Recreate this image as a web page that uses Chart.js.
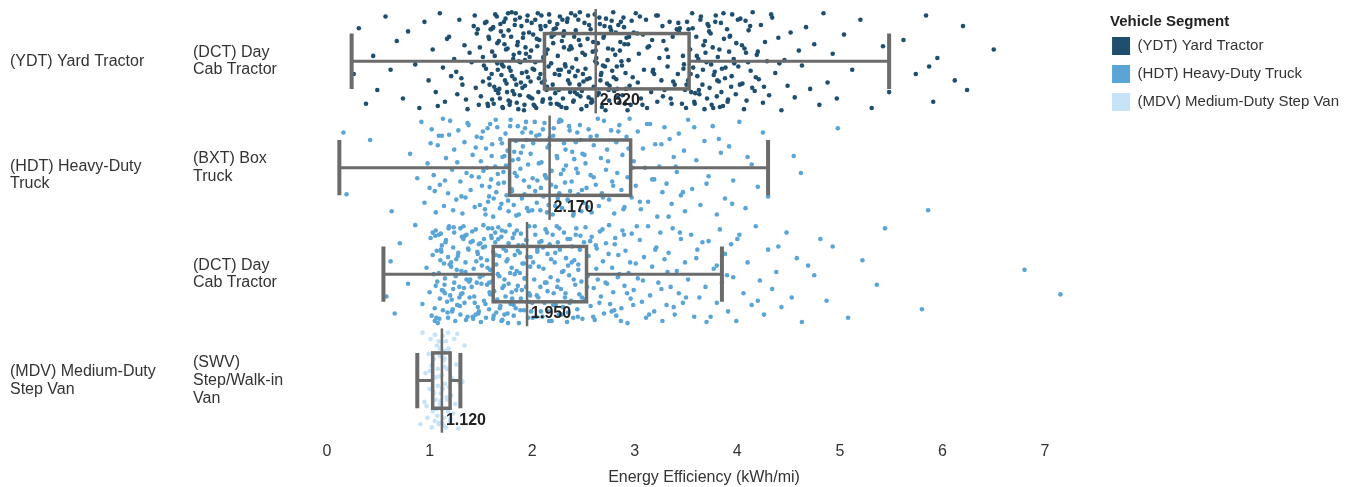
<!DOCTYPE html>
<html>
<head>
<meta charset="utf-8">
<title>Energy Efficiency by Vehicle Segment</title>
<script src="https://cdn.jsdelivr.net/npm/chart.js@4.4.1/dist/chart.umd.min.js"></script>
<style>
  html, body { margin: 0; padding: 0; background: #fff; }
  #chart { display: block; }
</style>
</head>
<body>
<canvas id="chart" width="1358" height="487"></canvas>
<script>
// legend / colour groups
var LEGEND_TITLE = "Vehicle Segment";
var SEGMENTS = ["(YDT) Yard Tractor", "(HDT) Heavy-Duty Truck", "(MDV) Medium-Duty Step Van"];
var SEGMENT_COLORS = ["#1f4e6f", "#5aa5d6", "#c6e3f8"];

// left hand labels
var GROUP_LABELS = [["(YDT) Yard Tractor"], ["(HDT) Heavy-Duty", "Truck"], ["(MDV) Medium-Duty", "Step Van"]];
var ROW_LABELS = [["(DCT) Day", "Cab Tractor"], ["(BXT) Box", "Truck"], ["(DCT) Day", "Cab Tractor"], ["(SWV)", "Step/Walk-in", "Van"]];
var ROW_SEGMENT = [0, 1, 1, 2];

var X_TICKS = [0, 1, 2, 3, 4, 5, 6, 7];

// box plot stats per row (kWh/mi)
var WHISKER_LOW = [0.24, 0.12, 0.55, 0.88];
var Q1 = [2.12, 1.78, 1.62, 1.03];
var MEDIANS = [2.62, 2.17, 1.95, 1.12];
var Q3 = [3.53, 2.96, 2.53, 1.20];
var WHISKER_HIGH = [5.48, 4.30, 3.85, 1.30];

// individual vehicles
var ydtDct = [0.26,0.31,0.38,0.45,0.49,0.57,0.62,0.68,0.74,0.79,0.86,0.9,0.95,0.99,
  1.03,1.06,1.1,1.13,1.15,1.19,1.21,1.24,1.27,1.29,1.32,1.34,1.37,1.39,1.41,1.43,1.45,1.46,1.48,1.49,1.26,1.44,
  1.5,1.52,1.52,1.54,1.55,1.57,1.58,1.58,1.6,1.61,1.61,1.63,1.64,1.66,1.66,1.67,1.69,1.7,1.71,1.72,1.72,1.74,1.75,1.76,1.77,1.77,1.79,1.8,1.81,1.82,1.83,1.83,1.85,1.86,1.87,1.88,1.88,1.9,1.91,1.92,1.93,1.93,1.95,1.96,1.97,1.98,1.99,1.53,1.62,1.68,1.73,1.78,1.84,1.89,1.94,
  2.0,2.01,2.02,2.03,2.04,2.05,2.06,2.07,2.08,2.09,2.1,2.11,2.12,2.13,2.14,2.15,2.16,2.17,2.18,2.19,2.2,2.21,2.22,2.23,2.24,2.25,2.26,2.27,2.28,2.29,2.3,2.31,2.32,2.33,2.34,2.35,2.36,2.37,2.38,2.39,2.4,2.41,2.42,2.43,2.44,2.45,2.46,2.47,2.48,2.49,2.03,2.08,2.14,2.19,2.26,2.31,2.36,2.42,2.47,2.11,
  2.5,2.51,2.52,2.53,2.54,2.56,2.57,2.58,2.59,2.6,2.61,2.63,2.64,2.65,2.66,2.67,2.68,2.7,2.71,2.72,2.73,2.74,2.75,2.77,2.78,2.79,2.8,2.81,2.82,2.84,2.85,2.86,2.87,2.88,2.89,2.91,2.92,2.93,2.94,2.95,2.97,2.98,2.99,2.55,2.62,2.69,2.76,2.83,2.9,2.96,
  3.01,3.03,3.04,3.06,3.08,3.09,3.11,3.12,3.14,3.16,3.17,3.19,3.21,3.22,3.24,3.26,3.27,3.29,3.31,3.32,3.34,3.36,3.37,3.39,3.41,3.42,3.44,3.46,3.47,3.49,3.05,3.18,3.28,3.35,3.43,3.48,
  3.5,3.51,3.52,3.54,3.55,3.56,3.57,3.58,3.6,3.61,3.62,3.63,3.64,3.66,3.67,3.68,3.69,3.7,3.72,3.73,3.74,3.75,3.76,3.78,3.79,3.8,3.81,3.82,3.84,3.85,3.86,3.87,3.88,3.9,3.91,3.92,3.94,3.95,3.97,3.99,3.59,3.71,3.77,3.83,3.93,
  4.01,4.03,4.05,4.07,4.09,4.11,4.13,4.15,4.17,4.19,4.21,4.23,4.25,4.27,4.29,4.31,4.34,4.37,4.4,4.43,4.46,4.49,4.08,4.18,
  4.52,4.56,4.6,4.63,4.67,4.71,4.75,4.8,4.84,4.88,4.93,4.97,
  5.04,5.12,5.2,5.31,5.42,5.48,
  5.62,5.74,5.84,5.91,5.95,6.12,6.2,6.24,6.5,5.87,
  1.555,1.565,1.575,1.585,1.595,1.605,1.615,1.625,1.635,1.645,1.655,1.665,1.675,1.685,1.695,1.705,1.715,1.725,1.735,1.745,1.755,1.765,1.775,1.785,1.795,1.805,1.815,1.825,1.835,1.845,1.855,1.865,1.875,1.885,1.895,1.905,1.915,1.925,1.935,1.945,1.955,1.965,1.975,1.985,1.995,
  2.005,2.025,2.045,2.065,2.085,2.105,2.125,2.145,2.165,2.185,2.205,2.225,2.245,2.265,2.285,2.305,2.325,2.345,2.365,2.385,2.405,2.425,2.445,2.465,2.485,
  2.515,2.535,2.555,2.575,2.595,2.615,2.635,2.655,2.675,2.695,2.715,2.735,2.755,2.775,2.795,2.815,2.835,2.855,2.875,2.895,2.915,2.935,
  2.015,2.055,2.095,2.135,2.175,2.215,2.255,2.295,2.335,2.375,2.415,2.455,2.495,
  2.545,2.585,2.625,2.665,2.705,2.745,2.785,2.825,2.865,2.905,2.945,
  3.505,3.525,3.545,3.565,3.585,3.605,3.625,3.645,3.665,3.685,3.705,3.725,3.745,3.765,3.785,3.805,3.825,3.845,3.865,3.885,3.905,3.925,3.945,3.965,3.985,4.005,4.025,4.045,4.065,4.085,4.105,4.125,4.145,
  3.025,3.075,3.125,3.175,3.225,3.275,3.325,3.375,3.425,3.475,
  1.08,1.17,1.31,1.47,1.355,4.2,4.26,4.33,4.41];

var hdtBxt = [0.16,0.19,0.42,0.63,0.81,0.88,
  0.92,0.95,0.98,1.0,1.02,1.04,1.06,1.08,1.1,1.12,1.14,1.16,1.18,1.2,1.22,1.24,1.26,1.28,1.3,1.32,1.34,1.36,1.38,1.4,1.42,1.44,1.46,1.48,1.13,1.35,
  1.5,1.51,1.52,1.54,1.55,1.56,1.57,1.59,1.6,1.61,1.62,1.64,1.65,1.66,1.67,1.69,1.7,1.71,1.72,1.74,1.75,1.76,1.77,1.79,1.8,1.81,1.82,1.84,1.85,1.86,1.87,1.89,1.9,1.91,1.92,1.94,1.95,1.96,1.97,1.99,1.58,1.73,1.83,1.93,
  2.0,2.01,2.03,2.04,2.05,2.07,2.08,2.09,2.11,2.12,2.13,2.15,2.16,2.17,2.19,2.2,2.21,2.23,2.24,2.25,2.27,2.28,2.29,2.31,2.32,2.33,2.35,2.36,2.37,2.39,2.4,2.41,2.43,2.44,2.45,2.47,2.48,2.49,2.14,2.26,
  2.5,2.52,2.53,2.55,2.57,2.58,2.6,2.62,2.63,2.65,2.67,2.68,2.7,2.72,2.73,2.75,2.77,2.78,2.8,2.82,2.83,2.85,2.87,2.88,2.9,2.92,2.93,2.95,2.97,2.99,
  3.01,3.03,3.06,3.08,3.1,3.13,3.15,3.17,3.2,3.22,3.24,3.27,3.29,3.31,3.34,3.36,3.38,3.41,3.43,3.45,3.48,3.49,
  3.52,3.56,3.6,3.64,3.68,3.72,3.76,3.8,3.84,3.88,3.92,3.96,
  4.02,4.08,4.14,4.2,4.25,4.3,
  4.55,4.62,4.98,5.86,
  1.01,1.05,1.09,1.15,1.19,1.23,1.27,1.31,1.37,1.41,1.45,1.49,
  1.505,1.525,1.545,1.565,1.585,1.605,1.625,1.645,1.665,1.685,1.705,1.725,1.745,1.765,1.785,1.805,1.825,1.845,1.865,1.885,1.905,1.925,1.945,1.965,1.985,
  2.005,2.025,2.045,2.065,2.085,2.105,2.125,2.145,2.165,2.185,2.205,2.225,2.245,2.265,2.285,2.305,2.325,2.345,2.365,2.385,2.405,2.425,2.445,2.465,2.485,
  2.51,2.54,2.57,2.6,2.64,2.69,2.74,2.79,2.84,2.89,2.94,2.98,
  3.05,3.12,3.19,3.26,3.33,3.4,3.47,3.58,3.7,3.82,3.95,4.1];

var hdtDct = [0.58,0.62,0.66,0.71,0.79,0.86,0.93,0.97,
  1.0,1.01,1.02,1.03,1.04,1.05,1.06,1.06,1.07,1.08,1.09,1.1,1.11,1.12,1.12,1.13,1.14,1.15,1.16,1.17,1.18,1.18,1.19,1.2,1.21,1.22,1.23,1.24,1.24,1.25,1.26,1.27,1.28,1.29,1.3,1.3,1.31,1.32,1.33,1.34,1.35,1.36,1.36,1.37,1.38,1.39,1.4,1.41,1.42,1.42,1.43,1.44,1.45,1.46,1.47,1.48,1.48,1.49,1.05,1.09,1.15,1.21,1.27,1.33,1.39,1.45,1.11,1.23,1.35,1.47,1.03,1.29,
  1.5,1.5,1.51,1.52,1.53,1.53,1.54,1.55,1.56,1.56,1.57,1.58,1.59,1.59,1.6,1.61,1.62,1.62,1.63,1.64,1.65,1.65,1.66,1.67,1.68,1.68,1.69,1.7,1.71,1.71,1.72,1.73,1.74,1.74,1.75,1.76,1.77,1.77,1.78,1.79,1.8,1.8,1.81,1.82,1.83,1.83,1.84,1.85,1.86,1.86,1.87,1.88,1.89,1.89,1.9,1.91,1.92,1.92,1.93,1.94,1.95,1.95,1.96,1.97,1.98,1.98,1.99,1.52,1.58,1.64,1.7,1.76,1.82,1.88,1.94,1.61,1.73,1.85,1.97,1.67,
  2.0,2.01,2.02,2.03,2.04,2.05,2.06,2.07,2.08,2.09,2.1,2.11,2.12,2.13,2.14,2.15,2.16,2.17,2.18,2.19,2.2,2.21,2.22,2.23,2.24,2.25,2.26,2.27,2.28,2.29,2.3,2.31,2.32,2.33,2.34,2.35,2.36,2.37,2.38,2.39,2.4,2.41,2.42,2.43,2.44,2.45,2.46,2.47,2.48,2.49,2.05,2.15,2.25,2.35,2.45,
  2.51,2.52,2.54,2.55,2.57,2.58,2.6,2.61,2.63,2.64,2.66,2.67,2.69,2.7,2.72,2.73,2.75,2.76,2.78,2.79,2.81,2.82,2.84,2.85,2.87,2.88,2.9,2.91,2.93,2.94,2.96,2.97,2.99,2.62,2.8,
  3.01,3.03,3.05,3.07,3.09,3.11,3.13,3.15,3.17,3.19,3.21,3.23,3.25,3.27,3.29,3.31,3.33,3.35,3.37,3.39,3.41,3.43,3.45,3.47,3.49,
  3.52,3.55,3.58,3.61,3.63,3.66,3.69,3.72,3.74,3.77,3.8,3.83,3.85,3.88,3.91,3.94,3.96,3.99,
  4.02,4.06,4.1,4.14,4.18,4.22,4.26,4.3,4.34,4.38,4.43,4.48,
  4.53,4.58,4.63,4.69,4.75,4.81,4.87,4.93,
  5.08,5.22,5.36,5.44,
  5.8,6.8,7.15,
  1.055,1.075,1.095,1.115,1.135,1.155,1.175,1.195,1.215,1.235,1.255,1.275,1.295,1.315,1.335,1.355,1.375,1.395,1.415,1.435,1.455,1.475,1.495,
  1.505,1.525,1.545,1.565,1.585,1.605,1.625,1.645,1.665,1.685,1.705,1.725,1.745,1.765,1.785,1.805,1.825,1.845,1.865,1.885,1.905,1.925,1.945,1.965,1.985,
  2.005,2.025,2.045,2.065,2.085,2.105,2.125,2.145,2.165,2.185,2.205,2.225,2.245,2.265,2.285,2.305,2.325,2.345,2.365,2.385,2.405,2.425,2.445,2.465,2.485,
  2.505,2.535,2.565,2.595,2.625,2.655,2.685,2.715,2.745,2.775,2.805,2.835,2.865,2.895,2.925,2.955,2.985,
  3.02,3.08,3.14,3.2,3.26,3.32,3.38,3.44,3.5,3.6,3.7,3.8,3.9,4.0,4.2,4.4,
  1.065,1.105,1.145,1.185,1.225,1.265,1.305,1.345,1.385,1.425,1.465];

var mdvSwv = [0.91,0.93,0.95,0.96,0.98,0.99,1.0,1.01,1.02,1.02,1.03,1.04,1.04,1.05,1.05,1.06,1.06,1.07,1.07,1.08,1.08,1.09,1.09,1.1,1.1,1.1,1.11,1.11,1.12,1.12,1.12,1.13,1.13,1.14,1.14,1.15,1.15,1.16,1.16,1.17,1.17,1.18,1.18,1.19,1.2,1.2,1.21,1.22,1.23,1.24,1.25,1.26,1.28,1.3,1.32,1.34,1.11,1.13,1.09,1.15,
  1.035,1.055,1.075,1.095,1.105,1.115,1.125,1.135,1.145,1.165,1.185,1.205,1.0,0.97,1.27,1.29];

var ROW_VALUES = [ydtDct, hdtBxt, hdtDct, mdvSwv];

// vertical spread of the dots inside a row (row units)
var JITTER = [0.12,-0.31,0.40,-0.05,0.27,-0.42,0.08,-0.19,0.35,-0.28,0.03,0.44,-0.37,0.18,-0.11,0.29,-0.45,0.06,0.38,-0.23,
  0.14,-0.02,0.31,-0.39,0.22,-0.15,0.45,-0.08,0.01,-0.33,0.25,-0.26,0.41,-0.13,0.10,-0.43,0.33,-0.04,0.19,-0.36,
  0.07,0.42,-0.21,0.16,-0.30,0.36,-0.09,0.24,-0.44,0.02,-0.17,0.30,-0.35,0.13,0.43,-0.24,0.05,-0.40,0.21,-0.12,
  0.37,-0.29,0.09,-0.46,0.28,-0.06,0.17,-0.34,0.39,-0.18,0.00,0.32,-0.41,0.11,-0.22,0.46,-0.01,0.23,-0.38,0.15,
  -0.27,0.34,-0.10,0.04,-0.32,0.26,-0.16,0.41,-0.45,0.20,-0.07,0.35,-0.25,0.08,-0.39,0.44,-0.14,0.29,-0.20,0.12,
  -0.43,0.38,-0.03,0.18,-0.33,0.27,-0.11,0.05,-0.37,0.40,-0.23,0.22,-0.30];

Chart.defaults.font.family = "'Liberation Sans', Arial, sans-serif";
Chart.defaults.color = "#333";

var datasets = SEGMENTS.map(function(name, s) {
  var pts = [];
  for (var r = 0; r < ROW_VALUES.length; r++) {
    if (ROW_SEGMENT[r] !== s) continue;
    for (var i = 0; i < ROW_VALUES[r].length; i++) {
      pts.push({ x: ROW_VALUES[r][i], y: r + JITTER[(i + r * 29) % JITTER.length] });
    }
  }
  return {
    label: name,
    data: pts,
    backgroundColor: SEGMENT_COLORS[s],
    borderWidth: 0,
    pointRadius: 2.3,
    pointHoverRadius: 2.3
  };
});

var boxPlugin = {
  id: "boxes",
  afterDatasetsDraw: function(chart) {
    var ctx = chart.ctx, xs = chart.scales.x, ys = chart.scales.y;
    var unit = Math.abs(ys.getPixelForValue(1) - ys.getPixelForValue(0));
    var h = unit * 0.26;
    ctx.save();
    ctx.strokeStyle = "#6b6b6b";
    for (var r = 0; r < MEDIANS.length; r++) {
      var y = ys.getPixelForValue(r);
      var lo = xs.getPixelForValue(WHISKER_LOW[r]);
      var a = xs.getPixelForValue(Q1[r]);
      var md = xs.getPixelForValue(MEDIANS[r]);
      var b = xs.getPixelForValue(Q3[r]);
      var hi = xs.getPixelForValue(WHISKER_HIGH[r]);

      ctx.lineWidth = 3;
      ctx.beginPath();
      ctx.moveTo(lo, y); ctx.lineTo(a, y);
      ctx.moveTo(b, y); ctx.lineTo(hi, y);
      ctx.stroke();

      ctx.lineWidth = 4;
      ctx.beginPath();
      ctx.moveTo(lo, y - h); ctx.lineTo(lo, y + h);
      ctx.moveTo(hi, y - h); ctx.lineTo(hi, y + h);
      ctx.stroke();

      ctx.lineWidth = 3.5;
      ctx.strokeRect(a, y - h, b - a, 2 * h);

      ctx.lineWidth = 2.5;
      ctx.beginPath();
      ctx.moveTo(md, y - unit * 0.49); ctx.lineTo(md, y + unit * 0.49);
      ctx.stroke();

      ctx.fillStyle = "#222";
      ctx.font = "bold 16px 'Liberation Sans', Arial, sans-serif";
      ctx.textAlign = "left";
      ctx.textBaseline = "middle";
      ctx.fillText(MEDIANS[r].toFixed(3), md + 4, y + h + 12);
    }
    ctx.restore();
  },
  afterDraw: function(chart) {
    var ctx = chart.ctx, ys = chart.scales.y, lg = chart.legend;
    // outer group labels, far left
    var anchor = [0, 1.07, 3];
    ctx.save();
    ctx.fillStyle = "#333";
    ctx.font = "16px 'Liberation Sans', Arial, sans-serif";
    ctx.textAlign = "left";
    ctx.textBaseline = "middle";
    for (var g = 0; g < GROUP_LABELS.length; g++) {
      var lines = GROUP_LABELS[g];
      var cy = ys.getPixelForValue(anchor[g]);
      for (var k = 0; k < lines.length; k++) {
        ctx.fillText(lines[k], 10, cy + (k - (lines.length - 1) / 2) * 17.5);
      }
    }
    // legend heading, indented a little from the legend edge
    ctx.fillStyle = "#222";
    ctx.font = "bold 15px 'Liberation Sans', Arial, sans-serif";
    ctx.fillText(LEGEND_TITLE, lg.left + 8, lg.top + 14);
    ctx.restore();
  }
};

new Chart(document.getElementById("chart"), {
  type: "scatter",
  data: { datasets: datasets },
  plugins: [boxPlugin],
  options: {
    responsive: false,
    animation: false,
    layout: { padding: { left: 193, top: 8, right: 9, bottom: 0 } },
    scales: {
      x: {
        type: "linear",
        min: -0.205,
        max: 7.556,
        afterBuildTicks: function(s) { s.ticks = X_TICKS.map(function(v) { return { value: v }; }); },
        grid: { display: false, drawTicks: false },
        border: { display: false },
        ticks: { padding: 8, color: "#333", font: { size: 16 } },
        title: { display: true, text: "Energy Efficiency (kWh/mi)", color: "#333", font: { size: 16, lineHeight: 1 }, padding: { top: 1, bottom: 1 } }
      },
      y: {
        type: "linear",
        reverse: true,
        min: -0.5,
        max: 3.5,
        afterBuildTicks: function(s) { s.ticks = ROW_LABELS.map(function(l, i) { return { value: i }; }); },
        afterFit: function(s) { s.width = 113; s.paddingTop = 0; s.paddingBottom = 0; },
        grid: { display: false, drawTicks: false },
        border: { display: false },
        ticks: {
          crossAlign: "far",
          padding: 0,
          color: "#333",
          font: { size: 16, lineHeight: 1.1 },
          callback: function(v) { return ROW_LABELS[v]; }
        }
      }
    },
    plugins: {
      tooltip: { enabled: false },
      legend: {
        position: "right",
        align: "start",
        // heading space is kept here, the text itself is drawn by the plugin
        title: { display: true, text: LEGEND_TITLE, position: "start", color: "rgba(0,0,0,0)", font: { size: 15, weight: "bold", lineHeight: 1 }, padding: { top: 2, bottom: 2 } },
        labels: {
          boxWidth: 18,
          boxHeight: 18,
          padding: 10,
          color: "#333",
          font: { size: 15 },
          generateLabels: function() {
            return SEGMENTS.map(function(s, i) {
              return { text: s, fillStyle: SEGMENT_COLORS[i], strokeStyle: SEGMENT_COLORS[i], fontColor: "#333", lineWidth: 0, datasetIndex: i, hidden: false };
            });
          }
        }
      }
    }
  }
});
</script>
</body>
</html>
